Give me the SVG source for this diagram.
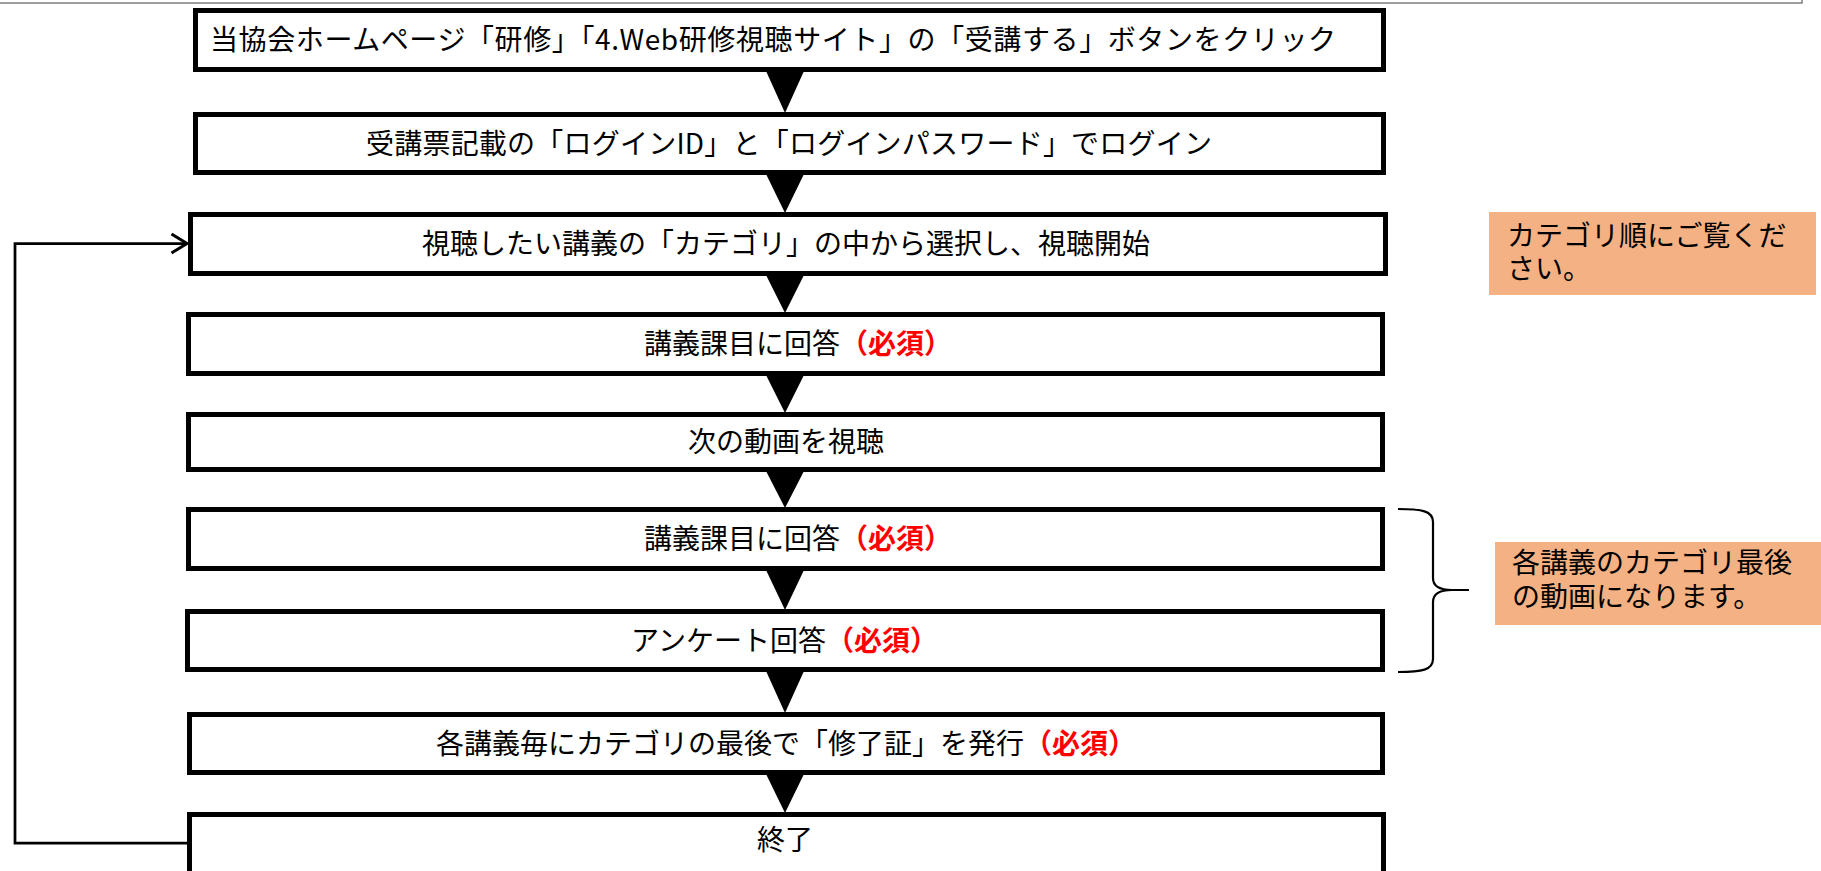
<svg xmlns="http://www.w3.org/2000/svg" width="1821" height="871" viewBox="0 0 1821 871">
<style>
.box{fill:#ffffff;stroke:#000000;stroke-width:5}
.t{font-family:"Noto Sans CJK JP","Noto Sans CJK SC",sans-serif;font-size:28px;fill:#000000}
.req{fill:#ff0000;font-weight:700}
.tri{fill:#000000}
.conn{fill:none;stroke:#000000;stroke-width:2.75}
.note{fill:#f4b183}
.brace{fill:none;stroke:#000000;stroke-width:2.2}
</style>
<defs>
<marker id="open" viewBox="0 0 20 22" markerWidth="20" markerHeight="22" refX="17" refY="11" orient="auto" markerUnits="userSpaceOnUse">
<path d="M1.5,1.5 L17,11 L1.5,20.5" fill="none" stroke="#000000" stroke-width="3"/>
</marker>
</defs>
<rect x="-2" y="-12" width="1804" height="15" fill="none" stroke="#7f7f7f" stroke-width="1.5"/>

<g id="connectors">
<polygon class="tri" points="766,71 804,71 785,113"/>
<polygon class="tri" points="766,174 804,174 785,213"/>
<polygon class="tri" points="766,275 804,275 785,313"/>
<polygon class="tri" points="766,375 804,375 785,413"/>
<polygon class="tri" points="766,471 804,471 785,508"/>
<polygon class="tri" points="766,570 804,570 785,610"/>
<polygon class="tri" points="766,671 804,671 785,713"/>
<polygon class="tri" points="766,774 804,774 785,813"/>
<polyline class="conn" points="187,843 15,843 15,243.5 187,243.5" marker-end="url(#open)"/>
</g>

<g id="node1">
<rect class="box" x="195.5" y="10.5" width="1188" height="59"/>
<text class="t" x="210" y="50" textLength="1126" lengthAdjust="spacing">当協会ホームページ「研修」「4.Web研修視聴サイト」の「受講する」ボタンをクリック</text>
</g>
<g id="node2">
<rect class="box" x="195.5" y="114.5" width="1188" height="58"/>
<text class="t" x="789" y="153.5" text-anchor="middle" textLength="846" lengthAdjust="spacing">受講票記載の「ログインID」と「ログインパスワード」でログイン</text>
</g>
<g id="node3">
<rect class="box" x="190.5" y="214.5" width="1195" height="59"/>
<text class="t" x="786" y="254" text-anchor="middle">視聴したい講義の「カテゴリ」の中から選択し、視聴開始</text>
</g>
<g id="node4">
<rect class="box" x="188.5" y="314.5" width="1194" height="59"/>
<text class="t" x="644" y="354">講義課目に回答<tspan class="req">（必須）</tspan></text>
</g>
<g id="node5">
<rect class="box" x="188.5" y="414.5" width="1194" height="55"/>
<text class="t" x="786" y="452" text-anchor="middle">次の動画を視聴</text>
</g>
<g id="node6">
<rect class="box" x="188.5" y="509.5" width="1194" height="59"/>
<text class="t" x="644" y="549">講義課目に回答<tspan class="req">（必須）</tspan></text>
</g>
<g id="node7">
<rect class="box" x="187.5" y="611.5" width="1195" height="58"/>
<text class="t" x="631" y="650.5">アンケート回答<tspan class="req">（必須）</tspan></text>
</g>
<g id="node8">
<rect class="box" x="189.5" y="714.5" width="1193" height="58"/>
<text class="t" x="436" y="753.5">各講義毎にカテゴリの最後で「修了証」を発行<tspan class="req">（必須）</tspan></text>
</g>
<g id="node9">
<rect class="box" x="189.5" y="814.5" width="1194" height="66"/>
<text class="t" x="785" y="850" text-anchor="middle">終了</text>
</g>

<g id="note1">
<rect class="note" x="1489" y="212" width="327" height="83"/>
<text class="t" x="1507" y="245.5">カテゴリ順にご覧くだ</text>
<text class="t" x="1507" y="279">さい。</text>
</g>
<g id="brace">
<path class="brace" d="M1398,509 C1422,509 1433,511 1433,522 L1433,578 C1433,587 1440,590 1452,590 L1469,590 L1452,590 C1440,590 1433,593 1433,602 L1433,659 C1433,670 1422,672 1398,672"/>
</g>
<g id="note2">
<rect class="note" x="1495" y="542" width="326" height="83"/>
<text class="t" x="1512" y="573">各講義のカテゴリ最後</text>
<text class="t" x="1512" y="607">の動画になります。</text>
</g>
</svg>
